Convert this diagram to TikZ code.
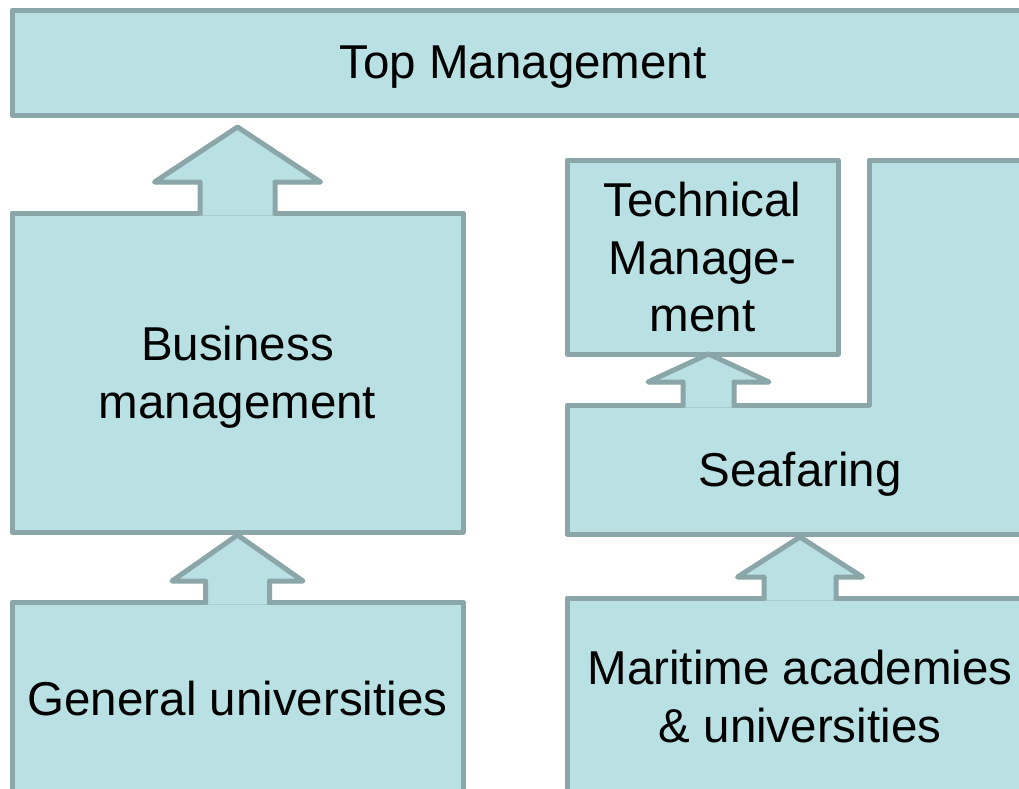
\documentclass[tikz,border=0pt]{standalone}
\usepackage{fontspec}
\setmainfont{Liberation Sans}
\usetikzlibrary{calc}

\definecolor{boxfill}{RGB}{185,224,227}
\definecolor{boxline}{RGB}{138,166,168}

% Block arrow pointing up: #1 base point, #2 tip point,
% #3 half shaft width, #4 half head width, #5 head length (pt)
\newcommand{\blockarrow}[5]{%
  \path[boxstyle] let \p1=(#1), \p2=(#2) in
    (\x1-#3pt,\y1-2.5pt) -- (\x1-#3pt,\y2-#5pt) -- (\x1-#4pt,\y2-#5pt)
    -- (\x1,\y2) -- (\x1+#4pt,\y2-#5pt) -- (\x1+#3pt,\y2-#5pt)
    -- (\x1+#3pt,\y1-2.5pt);
}

\tikzset{
  boxstyle/.style={fill=boxfill, draw=boxline, line width=5pt, line join=round},
  label text/.style={text=black, text depth=0pt, align=center,
    font=\fontsize{47.5}{57.5}\selectfont},
  stage/.style={boxstyle, label text, rectangle, outer sep=0pt, inner sep=0pt,
    anchor=north west},
}

\begin{document}
\begin{tikzpicture}[x=1pt, y=-1pt]
  \useasboundingbox (0,0) rectangle (1019,788);
  \fill[white] (0,0) rectangle (1019,788);
  \clip (0,0) rectangle (1019,788);

  % left column
  \node[stage, minimum width=1022pt, minimum height=105pt] (top) at (12,10) {Top Management};
  \node[stage, minimum width=451pt, minimum height=319pt] (bm) at (12,213) {Business\\management};
  \node[stage, minimum width=451pt, minimum height=193pt] (gu) at (12,602) {General universities};

  % right column
  \node[stage, minimum width=271pt, minimum height=194pt] (tm) at (567,160) {Technical\\Manage-\\ment};
  \node[stage, draw=none, minimum width=466pt, minimum height=129pt] (sea) at (567,405) {};
  \coordinate (seaup) at (869,160);
  \coordinate (seaedge) at (1040,160);
  \draw[boxstyle] (sea.north west) -- (seaup |- sea.north) -- (seaup) -- (seaedge)
    -- (seaedge |- sea.south) -- (sea.south west) -- cycle;
  \node[label text] (seatext) at (sea.center) {Seafaring};
  \node[stage, minimum width=466pt, minimum height=197pt] (mar) at (567,598) {Maritime academies\\\& universities};

  % upward block arrows
  \coordinate (t1) at ($(bm.north |- top.south)+(0,12)$);
  \blockarrow{bm.north}{t1}{37.5}{83}{55}
  \coordinate (t2) at ($(gu.north |- bm.south)+(0,3)$);
  \blockarrow{gu.north}{t2}{32}{65.5}{46}
  \coordinate (t3) at ($(tm.south)+(6,0)$);
  \coordinate (b3) at (t3 |- sea.north);
  \blockarrow{b3}{t3}{25.5}{60.5}{28}
  \coordinate (t4) at ($(mar.north |- sea.south)+(0,3)$);
  \blockarrow{mar.north}{t4}{36}{62.5}{40}
\end{tikzpicture}
\end{document}
